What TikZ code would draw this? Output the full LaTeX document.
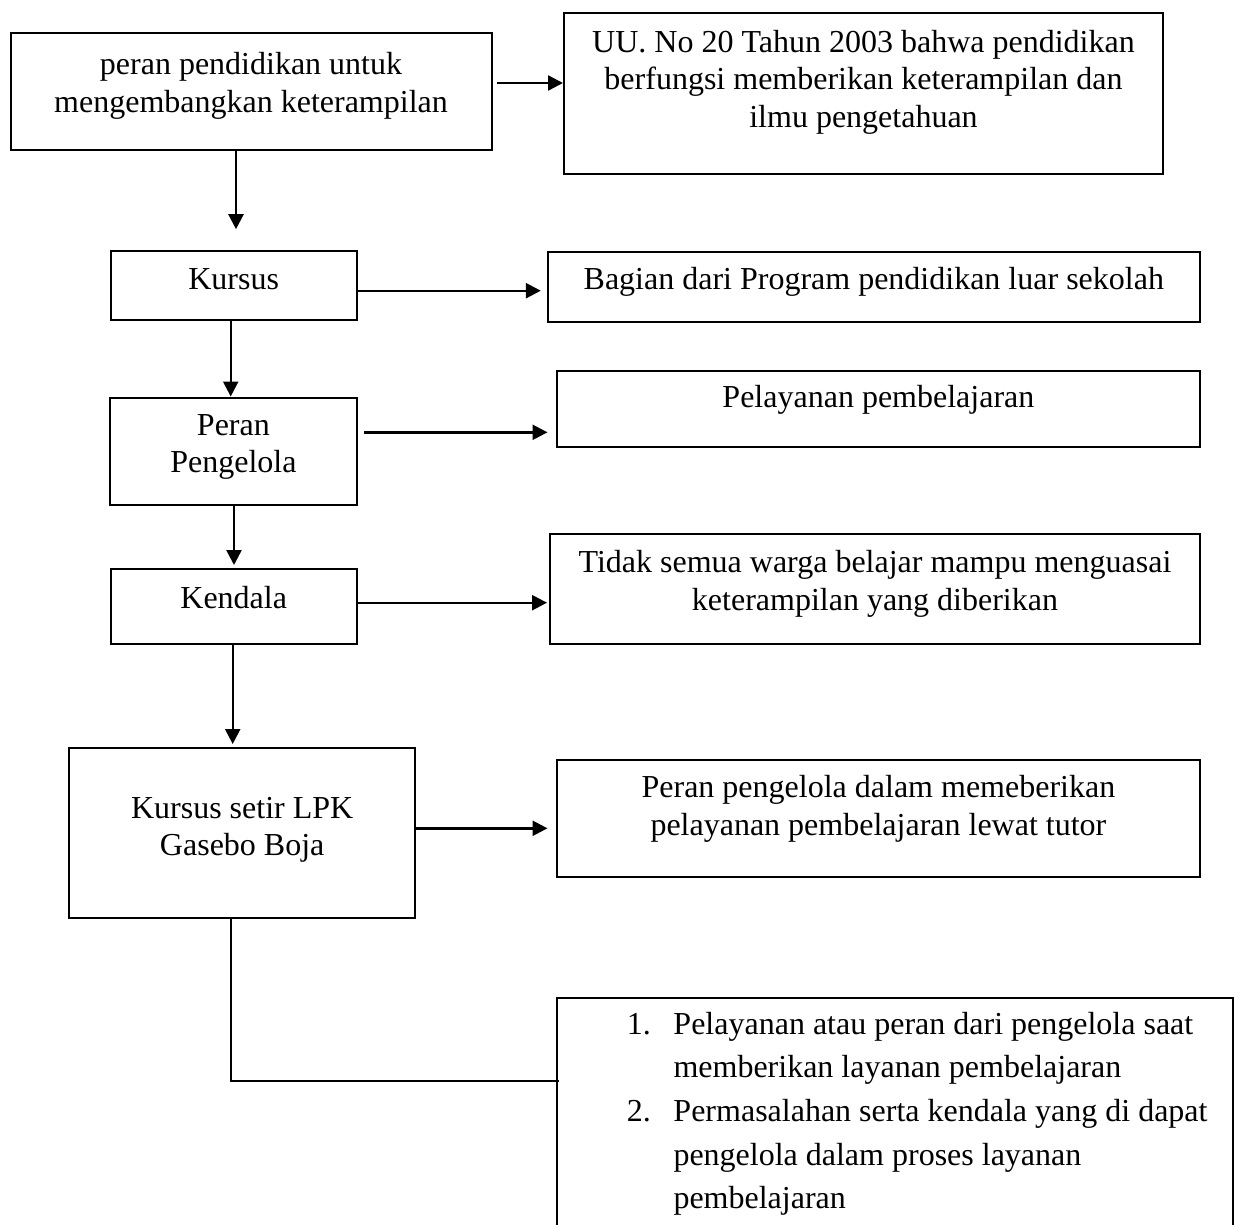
\documentclass[tikz,border=0pt]{standalone}
\usepackage{fontspec}
\setmainfont{Liberation Serif}
\usetikzlibrary{arrows.meta}

\begin{document}
\begin{tikzpicture}[x=1pt,y=-1pt,
  >={Triangle[length=15pt,width=15pt]},
  box/.style={draw,line width=2pt,inner sep=0pt},
  txt/.style={font=\fontsize{32}{37.5}\selectfont,align=center,inner sep=0pt},
  daftar/.style={font=\fontsize{32}{43.7}\selectfont,inner sep=0pt},
  panah/.style={->,line width=2.4pt}]
\useasboundingbox (0,0) rectangle (1240,1224);

% kotak kiri
\node[box,minimum width=481pt,minimum height=117pt] (pendidikan) at (251,91.7) {};
\node[box,minimum width=246pt,minimum height=69pt] (kursus) at (233.7,285.4) {};
\node[box,minimum width=247pt,minimum height=107pt] (peran) at (233.4,451) {};
\node[box,minimum width=246pt,minimum height=75pt] (kendala) at (233.7,606.5) {};
\node[box,minimum width=346pt,minimum height=170pt] (setir) at (242.2,833) {};

% kotak kanan
\node[box,minimum width=599pt,minimum height=161pt] (uu) at (863.5,93.5) {};
\node[box,minimum width=652pt,minimum height=70pt] (bagian) at (873.8,286.7) {};
\node[box,minimum width=643pt,minimum height=76pt] (pelayanan) at (878.4,408.6) {};
\node[box,minimum width=650pt,minimum height=110pt] (tidak) at (875,589) {};
\node[box,minimum width=643pt,minimum height=117pt] (dalam) at (878.4,818) {};
\node[box,minimum width=676pt,minimum height=260pt,anchor=north west] (tujuan) at (556,997) {};

% teks
\node[txt] (pendidikant) at (251,86) {peran pendidikan untuk\\mengembangkan keterampilan};
\node[txt] (kursust) at (233.7,279) {Kursus};
\node[txt] (perant) at (233.4,447) {Peran\\Pengelola};
\node[txt] (kendalat) at (233.7,597.5) {Kendala};
\node[txt] (setirt) at (242.2,830) {Kursus setir LPK\\Gasebo Boja};
\node[txt] (uut) at (863.5,82) {UU. No 20 Tahun 2003 bahwa pendidikan\\berfungsi memberikan keterampilan dan\\ilmu pengetahuan};
\node[txt] (bagiant) at (873.8,282) {Bagian dari Program pendidikan luar sekolah};
\node[txt] (pelayanant) at (878.4,400) {Pelayanan pembelajaran};
\node[txt] (tidakt) at (875,584) {Tidak semua warga belajar mampu menguasai\\keterampilan yang diberikan};
\node[txt] (dalamt) at (878.4,809) {Peran pengelola dalam memeberikan\\pelayanan pembelajaran lewat tutor};
\node[daftar,anchor=base west] (tujuant) at (626.7,1034) {\begin{tabular}[t]{@{}l@{\hspace{22.6pt}}l@{}}
1. & Pelayanan atau peran dari pengelola saat\\
   & memberikan layanan pembelajaran\\
2. & Permasalahan serta kendala yang di dapat\\
   & pengelola dalam proses layanan\\
   & pembelajaran
\end{tabular}};

% panah
\draw[panah,shorten <=4pt] (pendidikan.east |- 0,83) -- (uu.west |- 0,83);
\draw[panah,shorten >=20.7pt] (pendidikan.south -| 236,0) -- (kursus.north -| 236,0);
\draw[panah,shorten >=6pt] (kursus.east |- 0,290.7) -- (bagian.west |- 0,290.7);
\draw[panah] (kursus.south -| 230.7,0) -- (peran.north -| 230.7,0);
\draw[panah,shorten <=6pt,shorten >=8.4pt] (peran.east |- 0,432.3) -- (pelayanan.west |- 0,432.3);
\draw[panah,shorten >=3pt] (peran.south -| 234,0) -- (kendala.north -| 234,0);
\draw[panah,shorten >=2pt] (kendala.east |- 0,602.7) -- (tidak.west |- 0,602.7);
\draw[panah,shorten >=3pt] (kendala.south -| 232.7,0) -- (setir.north -| 232.7,0);
\draw[panah,shorten >=8.4pt] (setir.east |- 0,828.3) -- (dalam.west |- 0,828.3);
\draw[line width=2.4pt,shorten >=-3pt] (setir.south -| 231,0) |- (tujuan.west |- 0,1081);
\end{tikzpicture}
\end{document}
